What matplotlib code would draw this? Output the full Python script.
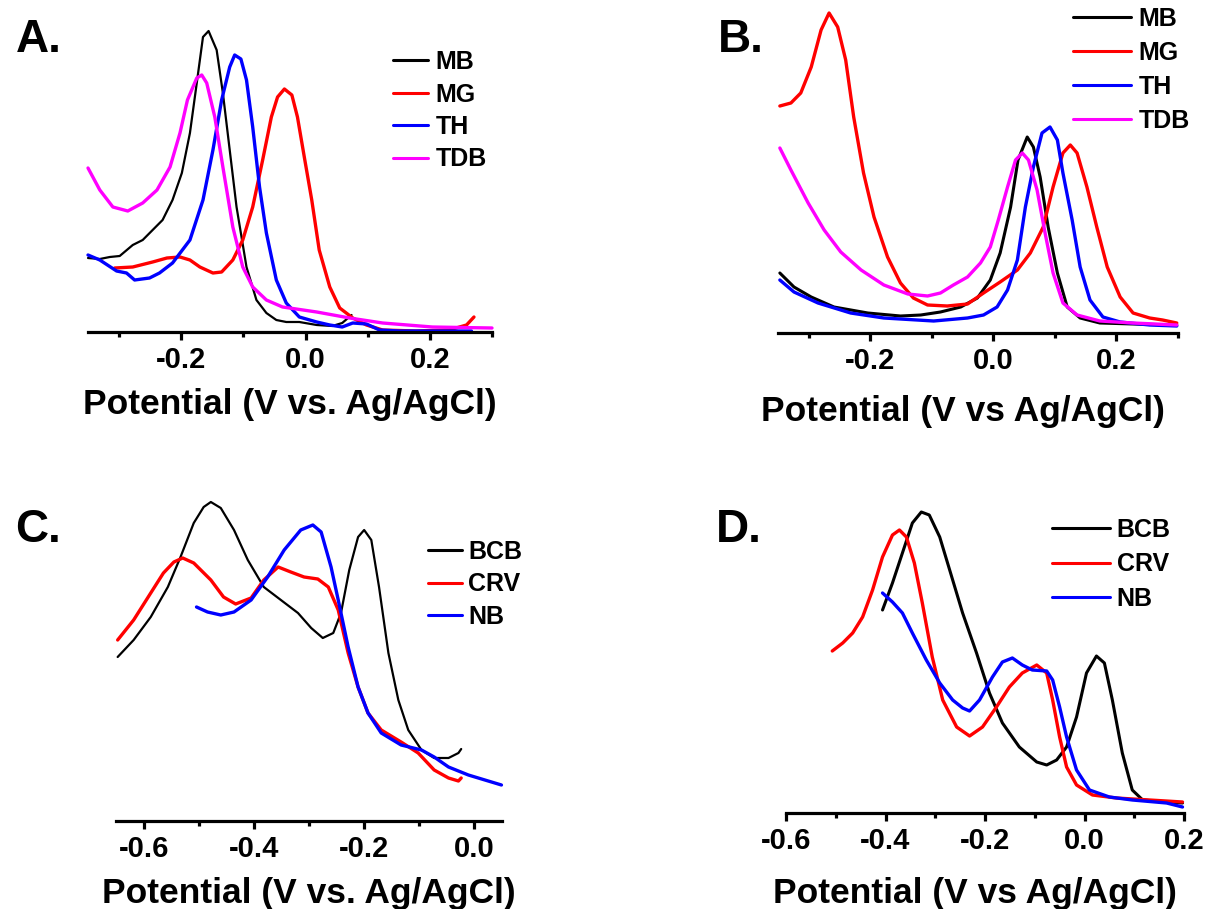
import matplotlib
matplotlib.use('Agg')
import matplotlib.pyplot as plt
from matplotlib.ticker import MultipleLocator, FormatStrFormatter

plt.rcParams['font.family'] = ['Liberation Sans', 'DejaVu Sans']
plt.rcParams['font.weight'] = 'bold'
plt.rcParams['axes.unicode_minus'] = False

# ---- panel A : potential (V) / current (a.u.)
a_mb_v = [-0.350, -0.331, -0.315, -0.299, -0.278, -0.262, -0.246, -0.230, -0.214, -0.199,
          -0.186, -0.175, -0.165, -0.156, -0.143, -0.133, -0.122, -0.111, -0.095, -0.079,
          -0.063, -0.047, -0.031, -0.010, 0.018, 0.043, 0.059, 0.074]
a_mb_i = [74, 73, 75, 76, 87, 92, 102, 112, 132, 159, 199, 249, 295, 301, 282, 239, 182,
          125, 65, 32, 19, 12, 10, 10, 7, 6, 9, 17]
a_mg_v = [-0.307, -0.278, -0.246, -0.223, -0.202, -0.186, -0.170, -0.149, -0.135, -0.117,
          -0.101, -0.085, -0.069, -0.055, -0.045, -0.034, -0.022, -0.013, -0.002, 0.010,
          0.022, 0.039, 0.055, 0.076, 0.098, 0.124, 0.178, 0.231, 0.259, 0.271]
a_mg_i = [64, 65, 70, 74, 75, 72, 65, 59, 60, 72, 92, 125, 172, 215, 235, 243, 237, 215,
          175, 132, 82, 45, 24, 14, 7, 2, 1, 2, 7, 15]
a_th_v = [-0.350, -0.331, -0.304, -0.288, -0.275, -0.251, -0.235, -0.214, -0.186, -0.165,
          -0.149, -0.135, -0.122, -0.114, -0.104, -0.095, -0.085, -0.074, -0.063, -0.047,
          -0.031, -0.010, 0.018, 0.039, 0.059, 0.076, 0.098, 0.119, 0.151, 0.204, 0.267]
a_th_i = [77, 72, 61, 59, 52, 54, 59, 69, 92, 132, 182, 232, 265, 277, 273, 252, 205, 145,
          99, 52, 29, 15, 10, 7, 5, 9, 8, 2, 1, 1, 1]
a_tdb_v = [-0.350, -0.331, -0.310, -0.286, -0.262, -0.239, -0.218, -0.202, -0.190, -0.175,
           -0.167, -0.159, -0.146, -0.133, -0.117, -0.101, -0.085, -0.063, -0.037, 0.018,
           0.071, 0.124, 0.204, 0.300]
a_tdb_i = [164, 142, 125, 121, 129, 142, 165, 199, 232, 254, 257, 249, 215, 165, 105, 65,
           45, 32, 25, 20, 14, 9, 5, 4]

# ---- panel B
b_mb_v = [-0.347, -0.324, -0.296, -0.259, -0.204, -0.151, -0.118, -0.086, -0.053, -0.026,
          -0.005, 0.011, 0.028, 0.040, 0.055, 0.065, 0.076, 0.089, 0.104, 0.120, 0.141,
          0.173, 0.227, 0.298]
b_mb_i = [60, 46, 36, 26, 20, 17, 18, 21, 26, 35, 53, 80, 126, 173, 196, 186, 156, 106, 60,
          26, 15, 10, 9, 8]
b_mg_v = [-0.347, -0.329, -0.313, -0.296, -0.280, -0.267, -0.253, -0.240, -0.227, -0.211,
          -0.194, -0.172, -0.151, -0.130, -0.107, -0.075, -0.042, -0.016, 0.011, 0.039,
          0.060, 0.081, 0.097, 0.113, 0.125, 0.136, 0.152, 0.168, 0.185, 0.206, 0.227,
          0.254, 0.275, 0.298]
b_mg_i = [227, 230, 240, 266, 303, 320, 306, 273, 216, 160, 116, 76, 50, 35, 28, 27, 29,
          40, 51, 63, 80, 106, 146, 180, 188, 180, 146, 106, 66, 36, 20, 15, 13, 10]
b_th_v = [-0.347, -0.324, -0.285, -0.232, -0.178, -0.097, -0.042, -0.016, 0.006, 0.023,
          0.039, 0.052, 0.065, 0.079, 0.092, 0.104, 0.113, 0.128, 0.141, 0.157, 0.178,
          0.206, 0.254, 0.298]
b_th_i = [53, 41, 30, 20, 15, 12, 15, 18, 26, 43, 73, 126, 166, 200, 206, 193, 160, 113,
          66, 33, 16, 11, 8, 7]
b_tdb_v = [-0.347, -0.329, -0.301, -0.275, -0.248, -0.215, -0.178, -0.139, -0.107, -0.086,
           -0.065, -0.042, -0.021, -0.005, 0.008, 0.023, 0.036, 0.047, 0.057, 0.071,
           0.084, 0.097, 0.113, 0.136, 0.173, 0.227, 0.298]
b_tdb_i = [185, 163, 130, 103, 81, 63, 48, 39, 37, 40, 48, 56, 70, 86, 113, 146, 173, 180,
           173, 143, 100, 60, 30, 18, 12, 10, 8]

# ---- panel C
c_bcb_v = [-0.647, -0.618, -0.587, -0.556, -0.533, -0.509, -0.491, -0.478, -0.460, -0.436,
           -0.411, -0.382, -0.351, -0.320, -0.296, -0.275, -0.256, -0.242, -0.227, -0.211,
           -0.200, -0.187, -0.173, -0.156, -0.138, -0.120, -0.096, -0.073, -0.047, -0.029,
           -0.024]
c_bcb_i = [164, 181, 204, 234, 264, 298, 314, 319, 313, 291, 261, 234, 221, 208, 193, 183,
           188, 208, 251, 284, 291, 281, 234, 168, 121, 91, 71, 63, 63, 68, 72]
c_crv_v = [-0.647, -0.618, -0.587, -0.564, -0.545, -0.529, -0.509, -0.478, -0.455, -0.433,
           -0.405, -0.382, -0.356, -0.333, -0.309, -0.284, -0.265, -0.247, -0.229, -0.211,
           -0.193, -0.169, -0.133, -0.102, -0.073, -0.047, -0.029, -0.024]
c_crv_i = [181, 201, 228, 248, 259, 263, 258, 241, 224, 217, 223, 241, 254, 249, 244, 242,
           234, 211, 168, 134, 108, 91, 79, 68, 51, 43, 40, 43]
c_nb_v = [-0.504, -0.484, -0.460, -0.436, -0.405, -0.375, -0.345, -0.315, -0.293, -0.278,
          -0.260, -0.247, -0.229, -0.211, -0.193, -0.169, -0.133, -0.096, -0.073, -0.047,
          -0.011, 0.049]
c_nb_i = [214, 209, 206, 209, 221, 244, 271, 291, 296, 289, 254, 221, 174, 134, 108, 88,
          76, 71, 64, 54, 46, 36]

# ---- panel D
d_bcb_v = [-0.406, -0.386, -0.366, -0.346, -0.328, -0.312, -0.291, -0.271, -0.245, -0.217,
           -0.191, -0.165, -0.131, -0.096, -0.076, -0.056, -0.036, -0.016, 0.004, 0.024,
           0.040, 0.056, 0.076, 0.096, 0.117, 0.165, 0.197]
d_bcb_i = [203, 230, 260, 290, 301, 298, 276, 243, 200, 160, 120, 90, 66, 51, 48, 53, 66,
           96, 140, 157, 150, 113, 60, 23, 13, 11, 10]
d_crv_v = [-0.507, -0.486, -0.466, -0.446, -0.426, -0.406, -0.386, -0.372, -0.358, -0.342,
           -0.326, -0.306, -0.285, -0.257, -0.231, -0.205, -0.177, -0.151, -0.125, -0.096,
           -0.076, -0.064, -0.050, -0.036, -0.016, 0.016, 0.064, 0.131, 0.197]
d_crv_i = [162, 170, 180, 196, 223, 256, 278, 283, 276, 250, 210, 156, 113, 86, 77, 86,
           106, 126, 140, 148, 140, 113, 76, 46, 28, 18, 15, 13, 11]
d_nb_v = [-0.406, -0.386, -0.366, -0.346, -0.318, -0.291, -0.265, -0.245, -0.231, -0.211,
          -0.185, -0.165, -0.145, -0.125, -0.105, -0.076, -0.064, -0.050, -0.036, -0.016,
          0.010, 0.050, 0.096, 0.165, 0.197]
d_nb_i = [220, 211, 200, 180, 153, 130, 113, 105, 102, 113, 136, 151, 155, 148, 143, 142,
          133, 106, 76, 43, 23, 16, 13, 10, 6]

W, H = 1212, 909
fig = plt.figure(figsize=(W / 100, H / 100), dpi=100)


def fx(x):
    return x / W


def fy(y):
    return 1 - y / H


def panel(box, xlim, curves, black_lw, xlabel, label_xy, leg_xy, leg_hl, leg_sp, leg_tp,
          letter, letter_xy):
    left, top, right, bottom = box
    ax = fig.add_axes([fx(left), fy(bottom), (right - left) / W, (bottom - top) / H])
    for name, v, i, col in curves:
        lw = black_lw if col == 'black' else 2.4
        ax.plot(v, i, color=col, lw=lw, label=name, clip_on=False,
                solid_joinstyle='round', solid_capstyle='round')
    ax.set_xlim(*xlim)
    ax.set_ylim(0, bottom - top)
    for s in ['left', 'right', 'top']:
        ax.spines[s].set_visible(False)
    ax.spines['bottom'].set_linewidth(2.3)
    ax.set_yticks([])
    ax.xaxis.set_major_locator(MultipleLocator(0.2))
    ax.xaxis.set_minor_locator(MultipleLocator(0.1))
    ax.xaxis.set_major_formatter(FormatStrFormatter('%.1f'))
    ax.tick_params(axis='x', which='major', direction='out', length=6, width=2.3,
                   labelsize=21, pad=4)
    ax.tick_params(axis='x', which='minor', direction='out', length=3.5, width=2.3)
    for t in ax.get_xticklabels():
        t.set_fontweight('bold')
    ax.set_xlabel(xlabel, fontsize=25.5, fontweight='bold')
    ax.xaxis.set_label_coords(fx(label_xy[0]), fy(label_xy[1]), transform=fig.transFigure)
    leg = ax.legend(loc='upper left', bbox_to_anchor=(fx(leg_xy[0]), fy(leg_xy[1])),
                    bbox_transform=fig.transFigure, frameon=False, borderpad=0,
                    borderaxespad=0, handlelength=leg_hl, labelspacing=leg_sp,
                    handletextpad=leg_tp, prop={'size': 18, 'weight': 'bold'})
    for ln in leg.get_lines():
        ln.set_linewidth(2.2)
    fig.text(fx(letter_xy[0]), fy(letter_xy[1]), letter, fontsize=33, fontweight='bold',
             va='baseline', ha='left')
    return ax


panel((88, 0, 492, 332), (-0.35, 0.30),
      [('MB', a_mb_v, a_mb_i, 'black'), ('MG', a_mg_v, a_mg_i, 'red'),
       ('TH', a_th_v, a_th_i, 'blue'), ('TDB', a_tdb_v, a_tdb_i, 'magenta')],
      1.6, 'Potential (V vs. Ag/AgCl)', (290, 388), (393, 50), 1.4, 0.34, 0.3,
      'A.', (16, 52))

panel((778, 0, 1178, 333), (-0.35, 0.30),
      [('MB', b_mb_v, b_mb_i, 'black'), ('MG', b_mg_v, b_mg_i, 'red'),
       ('TH', b_th_v, b_th_i, 'blue'), ('TDB', b_tdb_v, b_tdb_i, 'magenta')],
      2.2, 'Potential (V vs Ag/AgCl)', (963, 395), (1073, 7), 2.3, 0.40, 0.32,
      'B.', (718, 52))

panel((116, 460, 502, 821), (-0.65, 0.05),
      [('BCB', c_bcb_v, c_bcb_i, 'black'), ('CRV', c_crv_v, c_crv_i, 'red'),
       ('NB', c_nb_v, c_nb_i, 'blue')],
      1.6, 'Potential (V vs. Ag/AgCl)', (309, 877), (428, 540), 1.35, 0.33, 0.25,
      'C.', (15, 542))

panel((786, 460, 1184, 813), (-0.6, 0.2),
      [('BCB', d_bcb_v, d_bcb_i, 'black'), ('CRV', d_crv_v, d_crv_i, 'red'),
       ('NB', d_nb_v, d_nb_i, 'blue')],
      2.2, 'Potential (V vs Ag/AgCl)', (975, 877), (1052, 518), 2.3, 0.41, 0.28,
      'D.', (716, 542))

fig.savefig('out.png', dpi=100)
